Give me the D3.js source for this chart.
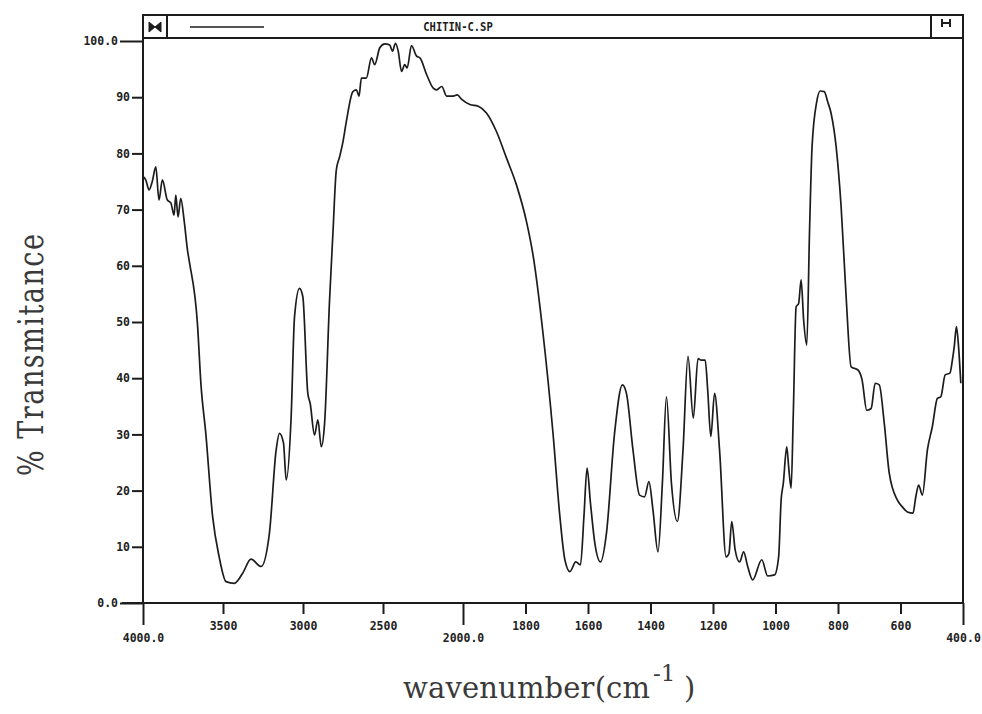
<!DOCTYPE html>
<html>
<head>
<meta charset="utf-8">
<script src="https://cdn.jsdelivr.net/npm/d3@7"></script>
<style>
  body { margin: 0; background: #fff; }
  svg { display: block; }
  .tick text { font-family: "DejaVu Sans Mono", monospace; font-weight: bold; font-size: 11.5px; fill: #222; }
  .title { font-family: "DejaVu Serif", "Liberation Serif", serif; fill: #3a3a3a; }
</style>
</head>
<body>
<svg id="viz" width="982" height="714"></svg>
<script>
// spectrum, wavenumber (cm-1) descending
var wavenumber = [4000,3983,3962,3942,3920,3900,3879,3848,3826,3806,3795,3781,3764,3743,3722,3712,3660,3638,3607,3565,
  3524,3481,3429,3377,3325,3262,3210,3168,3147,3122,3105,3074,3053,3022,3001,2970,2955,2928,2907,2886,
  2865,2834,2813,2792,2771,2750,2729,2688,2666,2650,2635,2604,2572,2552,2520,2489,2458,2441,2422,2405,
  2384,2364,2349,2322,2290,2269,2227,2186,2165,2133,2102,2061,2036,2008,1978,1951,1925,1893,1861,1829,
  1797,1775,1744,1712,1690,1674,1658,1639,1624,1613,1603,1592,1578,1560,1541,1515,1490,1477,1456,1435,
  1419,1405,1392,1376,1362,1349,1333,1314,1296,1280,1263,1248,1238,1225,1217,1207,1195,1179,1158,1149,
  1140,1129,1115,1102,1089,1073,1044,1025,1003,990,982,975,964,958,950,943,934,926,918,910,
  900,891,883,868,857,844,833,822,806,790,774,758,737,723,708,694,681,668,652,636,
  610,594,578,560,551,542,530,514,498,482,471,457,442,434,428,421,415,407];
var transmittance = [75.9,75.3,73.5,75,77.6,71.7,75.3,71.7,71.2,69,72.6,68.7,72,68.1,62.8,61,49.8,39,30,15.4,
  8.2,3.8,3.5,5.3,7.8,6.5,12.4,27.2,30.2,28.5,21.9,33.2,50.9,56,54.5,37.3,35.5,29.9,32.6,27.8,
  32,53.9,65.8,77,79.4,82.1,85.7,91,91.3,90.2,93.4,93.4,97,95.8,98.8,99.5,99.3,98.2,99.6,98.2,
  94.6,95.8,95.2,99.2,97.3,97,94,91.6,91.3,91.9,90.2,90.2,90.4,89.6,88.7,88.4,87.2,83.9,79.2,74.4,
  67.9,61.6,48,30.2,15.4,7.7,5.6,7.3,6.8,15.4,24,17.7,10.6,7.3,12.4,30.2,38.8,37.3,27.2,19.2,
  18.9,21.6,16.5,9.1,21.3,36.7,21.3,14.5,27.2,43.9,32.9,43.5,43.2,43.2,37.9,29.6,37.3,27.2,8.2,8.8,
  14.5,9.4,7.3,9.1,6.5,4.1,7.7,4.8,5.0,8.2,18.3,21.3,27.8,24.3,20.4,33.8,52.7,53.3,57.5,50.4,
  45.9,66.4,81.2,89.2,91.1,91,89.2,87.1,81.2,70.5,54.5,42,41.5,39.7,34.3,34.6,39.1,38.8,32,23.1,
  18.3,17.1,16.2,16,18.9,21,19.2,27.2,31.4,36.4,36.7,40.6,40.9,43.2,45.6,49.2,46.2,39.1];

var xTicks = [4000,3500,3000,2500,2000,1800,1600,1400,1200,1000,800,600,400];
var xLongTicks = [4000,2000,400];
var yTicks = [0,10,20,30,40,50,60,70,80,90,100];
var yLongTicks = [0,100];
var title = "CHITIN-C.SP";

var ink = "#1c1c1c"
  , pl = 143, pr = 963, pt = 15, ph = 38, pb = 603;   // frame edges

var svg = d3.select("#viz");

// IR chart: scale doubles below 2000 cm-1
var x = d3.scaleLinear().domain([4000, 2000, 400]).range([pl, 463, pr]);
var y = d3.scaleLinear().domain([0, 100]).range([pb, 41]);

// header bar
var hdr = svg.append("g");
hdr.append("rect").attr("x", pl).attr("y", pt).attr("width", pr - pl).attr("height", ph - pt)
  .attr("fill", "none").attr("stroke", ink).attr("stroke-width", 2);
hdr.append("line").attr("x1", pl + 24).attr("x2", pl + 24).attr("y1", pt).attr("y2", ph)
  .attr("stroke", ink).attr("stroke-width", 2);
hdr.append("line").attr("x1", pr - 32).attr("x2", pr - 32).attr("y1", pt).attr("y2", ph)
  .attr("stroke", ink).attr("stroke-width", 2);
hdr.append("path")
  .attr("d", "M149,22L155,27L149,32ZM161,22L155,27L161,32Z")
  .attr("fill", ink).attr("stroke", ink).attr("stroke-width", 1);
hdr.append("path")
  .attr("d", "M942,19V27M950,19V27M942,23H950")
  .attr("fill", "none").attr("stroke", ink).attr("stroke-width", 2);
hdr.append("line").attr("x1", 190).attr("x2", 264).attr("y1", 27).attr("y2", 27)
  .attr("stroke", ink).attr("stroke-width", 1.5);
hdr.append("g").attr("transform", "translate(458,31) scale(1,1.25)")
  .append("text").attr("text-anchor", "middle")
  .style("font-family", "'DejaVu Sans Mono', monospace").style("font-weight", "bold").style("font-size", "10.5px")
  .attr("fill", ink).text(title);

// frame sides + axis line
svg.append("line").attr("x1", pl).attr("x2", pl).attr("y1", pt).attr("y2", pb)
  .attr("stroke", ink).attr("stroke-width", 2);
svg.append("line").attr("x1", pr).attr("x2", pr).attr("y1", pt).attr("y2", pb)
  .attr("stroke", ink).attr("stroke-width", 2);
svg.append("line").attr("x1", pl - 21).attr("x2", pr).attr("y1", pb).attr("y2", pb)
  .attr("stroke", ink).attr("stroke-width", 2);

// x axis
var xAxis = d3.axisBottom(x).tickValues(xTicks).tickSize(11)
  .tickFormat(d => xLongTicks.includes(d) ? d.toFixed(1) : d);
var gx = svg.append("g").attr("transform", "translate(0," + pb + ")").call(xAxis);
gx.select(".domain").remove();
gx.selectAll(".tick line").attr("stroke", ink).attr("stroke-width", 2)
  .attr("y2", d => xLongTicks.includes(d) ? 22 : 11);
gx.selectAll(".tick text").attr("dy", null)
  .attr("y", d => xLongTicks.includes(d) ? 39 : 27);

// y axis
var yAxis = d3.axisLeft(y).tickValues(yTicks).tickSize(11)
  .tickFormat(d => yLongTicks.includes(d) ? d.toFixed(1) : d);
var gy = svg.append("g").attr("transform", "translate(" + pl + ",0)").call(yAxis);
gy.select(".domain").remove();
gy.selectAll(".tick line").attr("stroke", ink).attr("stroke-width", 2)
  .attr("x2", d => yLongTicks.includes(d) ? -23 : -11);
gy.selectAll(".tick text")
  .attr("x", d => yLongTicks.includes(d) ? -25 : -13);

// spectrum
var pts = wavenumber.map((w, i) => [w, transmittance[i]]);
var line = d3.line()
  .x(d => x(d[0]))
  .y(d => y(d[1]))
  .curve(d3.curveMonotoneX);
svg.append("path").datum(pts)
  .attr("d", line)
  .attr("fill", "none").attr("stroke", ink).attr("stroke-width", 1.7).attr("stroke-linejoin", "round");

// axis titles
svg.append("g").attr("transform", "translate(43,355) rotate(-90) scale(1,1.3)")
  .append("text").attr("class", "title").attr("text-anchor", "middle")
  .attr("textLength", 242).attr("lengthAdjust", "spacing")
  .style("font-size", "27px")
  .text("% Transmitance");

// x title: typewriter-like spacing, superscript set apart
var xt = svg.append("g").attr("class", "title");
xt.append("text").attr("x", 403).attr("y", 698)
  .attr("textLength", 247).attr("lengthAdjust", "spacing")
  .style("font-size", "29px").text("wavenumber(cm");
xt.append("text").attr("x", 653).attr("y", 681)
  .style("font-size", "23px").text("-1");
xt.append("text").attr("x", 684).attr("y", 698)
  .style("font-size", "29px").text(")");
</script>
</body>
</html>
